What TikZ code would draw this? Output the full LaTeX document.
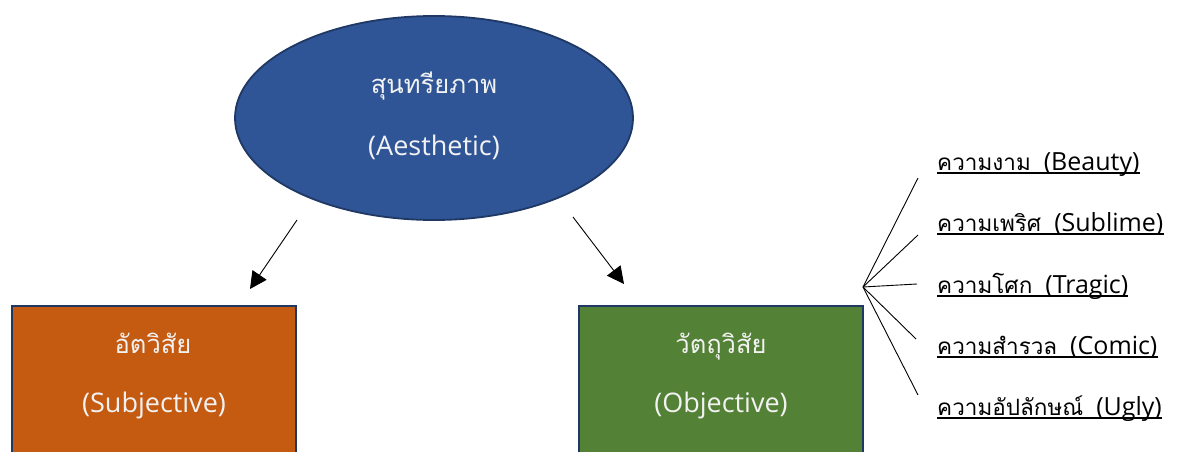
\documentclass[tikz,border=0pt]{standalone}
\usepackage{fontspec}
\setmainfont{Open Sans}
\newfontfamily\thaifont[Script=Thai]{Loma}
\usetikzlibrary{shapes.geometric,arrows.meta}
\definecolor{ellfill}{HTML}{2F5597}
\definecolor{ellline}{HTML}{1F3864}
\definecolor{boxline}{HTML}{203864}
\definecolor{orangefill}{HTML}{C55A11}
\definecolor{greenfill}{HTML}{538135}
\definecolor{paletext}{HTML}{F2F2F2}
\newcommand{\shapethai}[1]{{\thaifont\fontsize{25.5}{30}\selectfont #1}}
\newcommand{\labthai}[1]{{\thaifont\fontsize{22.5}{26}\selectfont #1}\hspace{13pt}}
\tikzset{
  shapetext/.style={text=paletext, font=\fontsize{27}{32}\selectfont, inner sep=0pt, anchor=base},
  boxshape/.style={rectangle, draw=boxline, line width=1.8pt, minimum width=284pt, minimum height=220pt, anchor=north},
  arr/.style={line width=0.9pt, -{Triangle[width=17pt,length=17pt]}},
  fanline/.style={line width=0.9pt},
  itemlabel/.style={anchor=base west, inner sep=0pt, font=\fontsize{25}{30}\selectfont},
  uline/.style={line width=1.3pt}
}
\begin{document}
\begin{tikzpicture}[x=1pt,y=-1pt]
\useasboundingbox (0,0) rectangle (1186,452);
\clip (0,0) rectangle (1186,452);
% ellipse
\node[ellipse, draw=ellline, fill=ellfill, line width=1.8pt, minimum width=398pt, minimum height=204pt] (ell) at (434,118) {};
\node[shapetext] (ellt1) at (434,93) {\shapethai{สุนทรียภาพ}};
\node[shapetext] (ellt2) at (434,155) {(Aesthetic)};
% boxes
\node[boxshape, fill=orangefill] (subj) at (154,305) {};
\node[shapetext] (subjt1) at (153,353) {\shapethai{อัตวิสัย}};
\node[shapetext] (subjt2) at (154,412) {(Subjective)};
\node[boxshape, fill=greenfill] (obj) at (721,305) {};
\node[shapetext] (objt1) at (721,353) {\shapethai{วัตถุวิสัย}};
\node[shapetext] (objt2) at (721,412) {(Objective)};
% arrows
\coordinate (a1s) at (297,220);
\coordinate (a1e) at (250,289);
\coordinate (a2s) at (573,217);
\coordinate (a2e) at (624,284);
\draw[arr] (a1s) -- (a1e);
\draw[arr] (a2s) -- (a2e);
% fan
\coordinate (hub) at (863,287);
\coordinate (f1) at (918,178);
\coordinate (f2) at (918,235);
\coordinate (f3) at (917,284);
\coordinate (f4) at (916,339);
\coordinate (f5) at (918,395);
\foreach \f in {f1,f2,f3,f4,f5} \draw[fanline] (hub) -- (\f);
% labels
\node[itemlabel] (l1) at (937,170) {\labthai{ความงาม}(Beauty)};
\node[itemlabel] (l2) at (937,231) {\labthai{ความเพริศ}(Sublime)};
\node[itemlabel] (l3) at (937,293) {\labthai{ความโศก}(Tragic)};
\node[itemlabel] (l4) at (937,354) {\labthai{ความสำรวล}(Comic)};
\node[itemlabel] (l5) at (937,415) {\labthai{ความอัปลักษณ์}(Ugly)};
\foreach \l in {l1,l2,l3,l4,l5}
  \draw[uline] ([yshift=-3pt]\l.base west) -- ([yshift=-3pt]\l.base east);
\end{tikzpicture}
\end{document}
